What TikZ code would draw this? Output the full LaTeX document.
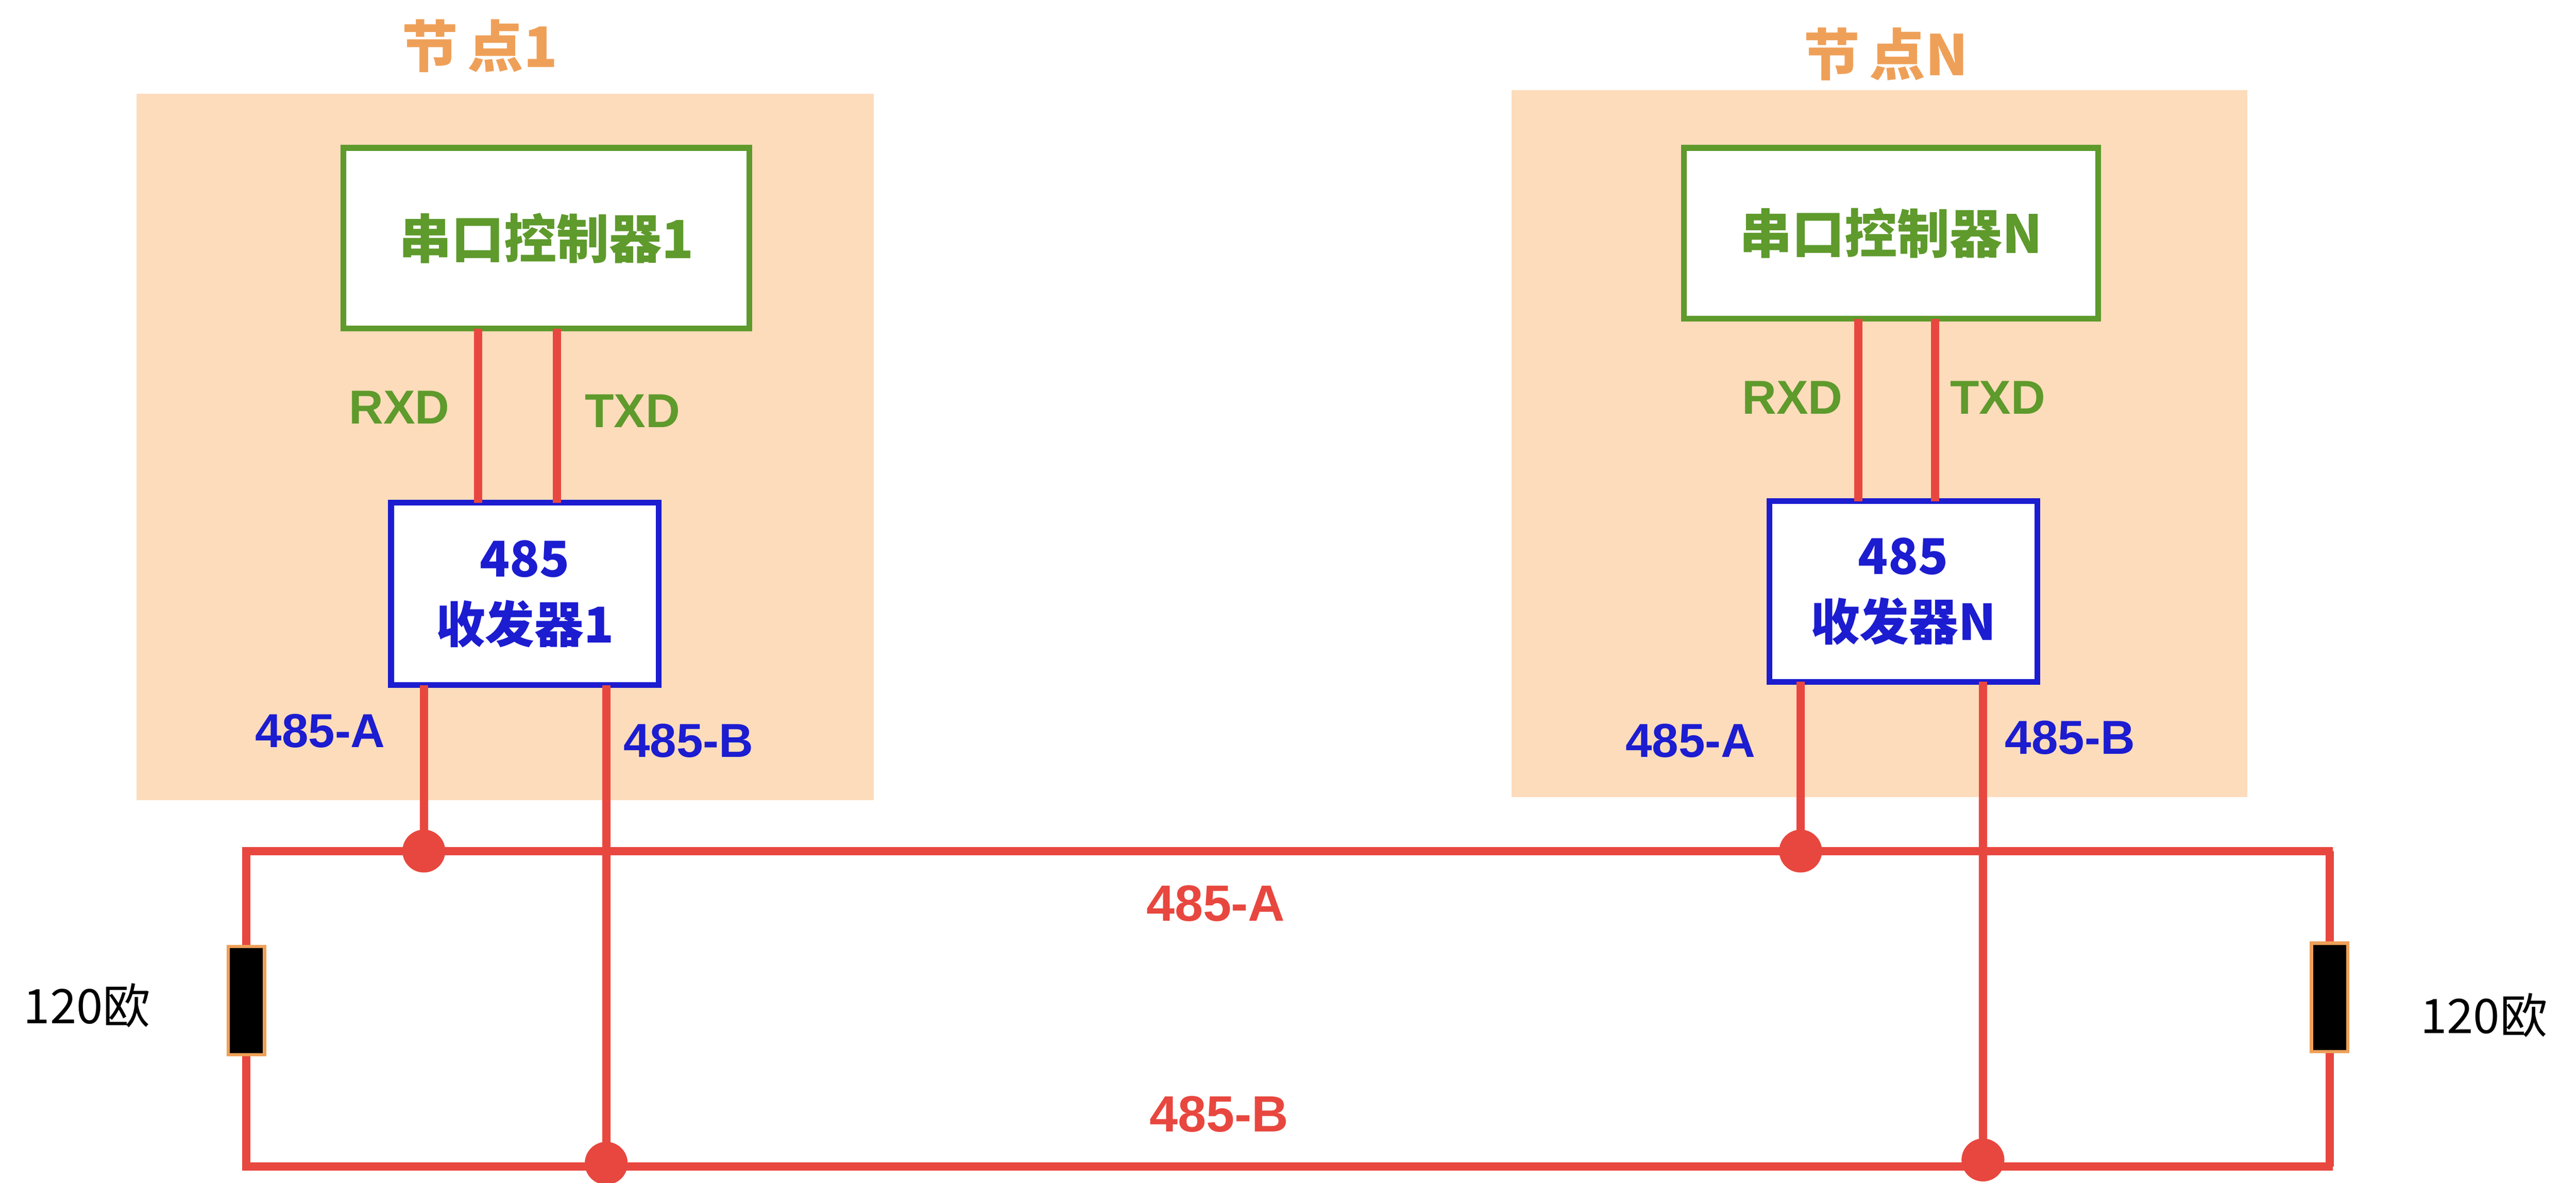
\documentclass[tikz,border=0pt]{standalone}
\usepackage{fontspec}
\setmainfont{Liberation Serif}
\setsansfont{Liberation Sans}
\newfontfamily\cjk{Noto Sans CJK SC}
\begin{document}
\definecolor{peach}{HTML}{FDDCBB}
\definecolor{wire}{HTML}{E8473F}
\definecolor{grn}{HTML}{5E9A2C}
\definecolor{blu}{HTML}{1C1CD0}
\definecolor{org}{HTML}{EFA058}
\begin{tikzpicture}[x=1pt,y=-1pt,
  bg/.style={fill=peach,draw=none},
  ctrl/.style={draw=grn,line width=3.5pt,fill=white},
  xcvr/.style={draw=blu,line width=3.5pt,fill=white},
  w/.style={draw=wire,line width=5pt},
  dot/.style={circle,fill=wire,minimum size=26pt,inner sep=0pt},
  glab/.style={text=grn,font=\sffamily\bfseries\fontsize{29}{30}\selectfont},
  blab/.style={text=blu,font=\sffamily\bfseries\fontsize{29}{30}\selectfont},
  rlab/.style={text=wire,font=\sffamily\bfseries\fontsize{31}{32}\selectfont},
  title/.style={text=org,font=\cjk\bfseries\fontsize{34}{36}\selectfont},
  res/.style={fill=black,draw=org,line width=2pt,minimum width=22pt,minimum height=66pt,inner sep=0pt},
  ohm/.style={font=\cjk\fontsize{29}{30}\selectfont}]
\useasboundingbox (0,0) rectangle (1568,720);
\fill[white] (0,0) rectangle (1568,720);
\path[bg] (83,57) rectangle (532,487);
\path[bg] (920,55) rectangle (1368,485);
\node[title] (t1) at (292,28) {节\kern6pt 点1};
\node[title] (tN) at (1148,33) {节\kern6pt 点N};
\node[ctrl,minimum width=247pt,minimum height=110pt] (c1) at (332.5,145) {};
\node[text=grn,font=\cjk\bfseries\fontsize{32}{34}\selectfont] at (c1) {串口控制器1};
\node[ctrl,minimum width=252pt,minimum height=104pt] (cN) at (1151,142) {};
\node[text=grn,font=\cjk\bfseries\fontsize{32}{34}\selectfont] at (cN) {串口控制器N};
\node[xcvr,minimum width=163pt,minimum height=111pt,align=center,text=blu,font=\cjk\bfseries\fontsize{30}{40}\selectfont] (x1) at (319.5,361.5) {485\\收发器1};
\node[xcvr,minimum width=163pt,minimum height=110pt,align=center,text=blu,font=\cjk\bfseries\fontsize{30}{40}\selectfont] (xN) at (1158.5,360) {485\\收发器N};
\coordinate (r1t) at (291,200); \coordinate (r1b) at (291,306);
\coordinate (t1t) at (339,200); \coordinate (t1b) at (339,306);
\coordinate (rNt) at (1131,194); \coordinate (rNb) at (1131,305);
\coordinate (tNt) at (1178,194); \coordinate (tNb) at (1178,305);
\draw[w] (r1t)--(r1b); \draw[w] (t1t)--(t1b);
\draw[w] (rNt)--(rNb); \draw[w] (tNt)--(tNb);
\node[glab] (lr1) at (243,248) {RXD};
\node[glab] (lt1) at (385,250) {TXD};
\node[glab] (lrN) at (1091,242) {RXD};
\node[glab] (ltN) at (1216,242) {TXD};
\coordinate (aL) at (150,518); \coordinate (aR) at (1420,518);
\coordinate (bL) at (150,710); \coordinate (bR) at (1420,710);
\node[dot] (dA1) at (258,518) {};
\node[dot] (dB1) at (369,708) {};
\node[dot] (dAN) at (1096,518) {};
\node[dot] (dBN) at (1207,706) {};
\coordinate (a1t) at (258,417); \coordinate (b1t) at (369,417);
\coordinate (aNt) at (1096,415); \coordinate (bNt) at (1207,415);
\node[res] (rL) at (150,609) {};
\node[res] (rR) at (1418,607) {};
\draw[w] (a1t)--(dA1.center);
\draw[w] (b1t)--(dB1.center);
\draw[w] (aNt)--(dAN.center);
\draw[w] (bNt)--(dBN.center);
\draw[w] (rL.north)--(aL)--(aR)--(1418,518)--(rR.north);
\draw[w] (rL.south)--(bL)--(bR)--(1418,710)--(rR.south);
\node[dot] at (258,518) {};
\node[dot] at (369,708) {};
\node[dot] at (1096,518) {};
\node[dot] at (1207,706) {};
\node[res] at (150,609) {};
\node[res] at (1418,607) {};
\node[blab] (la1) at (195,445) {485-A};
\node[blab] (lb1) at (419,451) {485-B};
\node[blab] (laN) at (1029,451) {485-A};
\node[blab] (lbN) at (1260,449) {485-B};
\node[rlab] (lA) at (740,550) {485-A};
\node[rlab] (lB) at (742,678) {485-B};
\node[ohm] (oL) at (53,612) {120欧};
\node[ohm] (oR) at (1512,618) {120欧};
\end{tikzpicture}
\end{document}
